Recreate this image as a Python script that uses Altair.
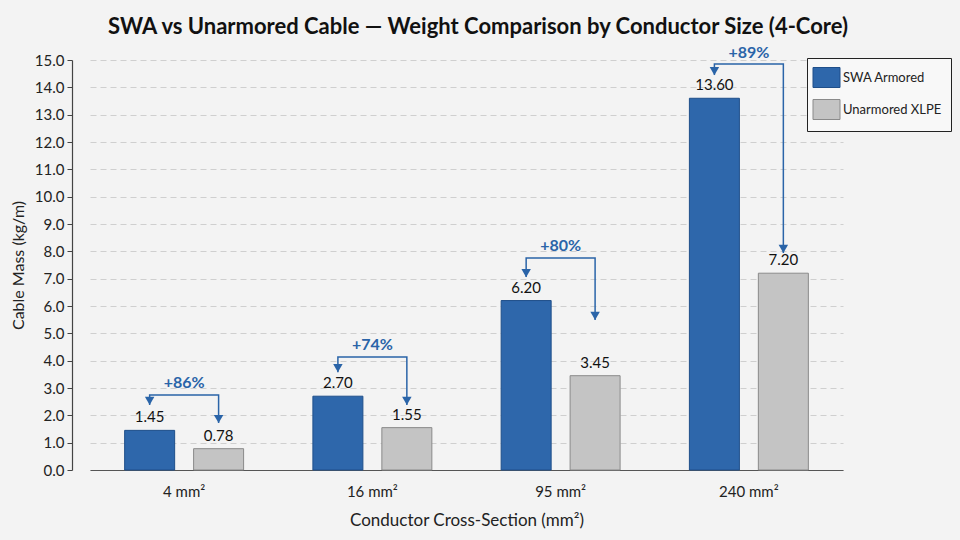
import altair as alt
import pandas as pd

categories = ["4 mm²", "16 mm²", "95 mm²", "240 mm²"]
series = ["SWA Armored", "Unarmored XLPE"]
swa = [1.45, 2.70, 6.20, 13.60]
unarmored = [0.78, 1.55, 3.45, 7.20]
value_labels_swa = ["1.45", "2.70", "6.20", "13.60"]
value_labels_unarm = ["0.78", "1.55", "3.45", "7.20"]
pct_labels = ["+86%", "+74%", "+80%", "+89%"]
bracket_level = [2.74, 4.13, 7.76, 14.85]
tip_swa = [2.38, 3.58, 7.06, 14.45]
tip_unarm = [1.72, 2.38, 5.49, 7.94]
pct_y = [3.18, 4.57, 8.2, 15.25]
y_ticks = [0, 1, 2, 3, 4, 5, 6, 7, 8, 9, 10, 11, 12, 13, 14, 15]

BLUE = "#2e67ab"
GREY = "#c4c4c4"
ARROW = "#2a64a8"
FONT = "Lato"

rows = []
for i, c in enumerate(categories):
    rows.append({"cat": c, "series": series[0], "value": swa[i], "label": value_labels_swa[i]})
    rows.append({"cat": c, "series": series[1], "value": unarmored[i], "label": value_labels_unarm[i]})
bars_df = pd.DataFrame(rows)

line_rows = []
head_rows = []
for i, c in enumerate(categories):
    line_rows += [
        {"cat": c, "series": series[0], "y": tip_swa[i], "o": 0},
        {"cat": c, "series": series[0], "y": bracket_level[i], "o": 1},
        {"cat": c, "series": series[1], "y": bracket_level[i], "o": 2},
        {"cat": c, "series": series[1], "y": tip_unarm[i], "o": 3},
    ]
    head_rows += [
        {"cat": c, "series": series[0], "y": tip_swa[i]},
        {"cat": c, "series": series[1], "y": tip_unarm[i]},
    ]
line_df = pd.DataFrame(line_rows)
head_df = pd.DataFrame(head_rows)
pct_df = pd.DataFrame({"cat": categories, "pct": pct_labels, "y": pct_y})

x_axis = alt.Axis(
    title="Conductor Cross-Section (mm²)",
    labelAngle=0,
    ticks=False,
    labelPadding=14,
    labelFontSize=15,
    labelFont=FONT,
    labelColor="#222",
    titleFont=FONT,
    titleFontSize=17,
    titleFontWeight="normal",
    titleColor="#222",
    titlePadding=13,
    domainColor="#555",
    domainWidth=1.2,
    grid=False,
)
x_scale = alt.Scale(domain=categories, range=[18, 771], paddingInner=0, paddingOuter=0)
y_axis = alt.Axis(
    title="Cable Mass (kg/m)",
    values=y_ticks,
    format=".1f",
    labelOverlap=False,
    labelFontSize=15,
    labelFont=FONT,
    labelColor="#222",
    labelPadding=3,
    tickSize=5,
    tickColor="#444",
    domainColor="#444",
    domainWidth=1.2,
    titleFont=FONT,
    titleFontSize=16,
    titleFontWeight="normal",
    titleColor="#222",
    titlePadding=8,
    grid=True,
    gridDash=[6, 4],
    gridColor="#cfcfcf",
    gridWidth=1,
)
y_scale = alt.Scale(domain=[0, 15], nice=False)
xoff_scale = alt.Scale(domain=series, paddingInner=0.275, paddingOuter=0.5026)


def X():
    return alt.X("cat:N", sort=categories, scale=x_scale, axis=x_axis)


def XO():
    return alt.XOffset("series:N", sort=series, scale=xoff_scale)


def Y(field):
    return alt.Y(field, scale=y_scale, axis=y_axis)


bars = alt.Chart(bars_df).mark_bar(strokeWidth=1).encode(
    x=X(),
    xOffset=XO(),
    y=Y("value:Q"),
    fill=alt.Fill(
        "series:N",
        sort=series,
        scale=alt.Scale(domain=series, range=[BLUE, GREY]),
        legend=alt.Legend(
            title=None,
            orient="none",
            legendX=735,
            legendY=-2,
            direction="vertical",
            strokeColor="#222",
            fillColor="#f8f8f8",
            padding=9,
            symbolType="M-1.35,-1H1.35V1H-1.35Z",
            symbolSize=400,
            symbolStrokeColor="#777",
            symbolStrokeWidth=1,
            symbolOpacity=1,
            labelFont=FONT,
            labelFontSize=13,
            labelColor="#222",
            labelOffset=6,
            rowPadding=7,
            labelLimit=200,
        ),
    ),
    stroke=alt.Stroke(
        "series:N",
        sort=series,
        scale=alt.Scale(domain=series, range=["#1f4f8a", "#8a8a8a"]),
        legend=None,
    ),
)

value_text = alt.Chart(bars_df).mark_text(
    baseline="bottom", dy=-5, fontSize=15, font=FONT, color="#111"
).encode(
    x=X(),
    xOffset=XO(),
    y=Y("value:Q"),
    text="label:N",
)

bracket = alt.Chart(line_df).mark_line(color=ARROW, strokeWidth=1.5).encode(
    x=X(),
    xOffset=XO(),
    y=Y("y:Q"),
    detail="cat:N",
    order="o:Q",
)

heads = alt.Chart(head_df).mark_point(
    shape="triangle-down", filled=True, color=ARROW, size=90, opacity=1, yOffset=-4
).encode(
    x=X(),
    xOffset=XO(),
    y=Y("y:Q"),
)

pct_text = alt.Chart(pct_df).mark_text(
    fontSize=16, font=FONT, fontWeight="bold", color=ARROW, baseline="middle"
).encode(
    x=X(),
    y=Y("y:Q"),
    text="pct:N",
)

chart = (
    alt.layer(bars, value_text, bracket, heads, pct_text)
    .properties(
        width=778,
        height=410,
        autosize=alt.AutoSizeParams(type="none"),
        padding={"left": 72, "top": 60, "right": 110, "bottom": 70},
        background="#f3f3f3",
        title=alt.TitleParams(
            "SWA vs Unarmored Cable — Weight Comparison by Conductor Size (4-Core)",
            font=FONT,
            fontSize=22,
            fontWeight="bold",
            color="#111",
            anchor="middle",
            frame="group",
            dx=17,
            offset=6,
        ),
    )
    .configure_view(stroke=None)
)

chart.save("out.html", embed_options={"renderer": "svg", "actions": False})
